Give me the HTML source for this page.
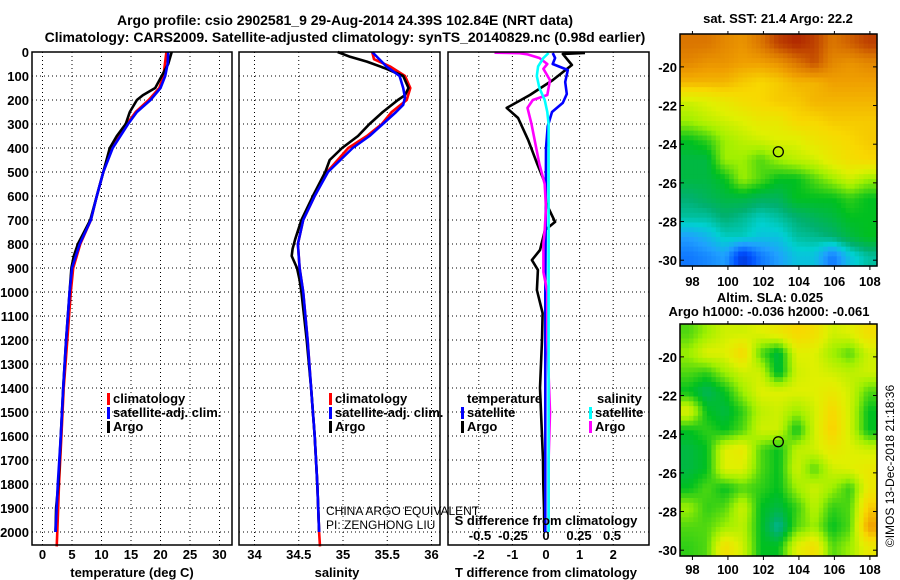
<!DOCTYPE html>
<html><head><meta charset="utf-8"><style>
html,body{margin:0;padding:0;background:#fff}
svg{display:block}
text{font-family:"Liberation Sans",sans-serif;fill:#000}
.b{font-weight:bold;font-size:13px}
.t{font-weight:bold;font-size:14px}
.n{font-size:12px}
</style></head><body>
<svg id="fig" width="900" height="580" viewBox="0 0 900 580" xmlns="http://www.w3.org/2000/svg">
<text class="t" x="345" y="25" text-anchor="middle">Argo profile: csio 2902581_9 29-Aug-2014 24.39S 102.84E (NRT data)</text>
<text class="t" x="345" y="42" text-anchor="middle">Climatology: CARS2009. Satellite-adjusted climatology: synTS_20140829.nc (0.98d earlier)</text>
<g id="g"></g>
</svg>
<script>
// ---------- data ----------
const depthTicks=[0,100,200,300,400,500,600,700,800,900,1000,1100,1200,1300,1400,1500,1600,1700,1800,1900,2000];
const tTicks=[0,5,10,15,20,25,30];
const sTicks=[34,34.5,35,35.5,36];
const sTickLabels=["34","34.5","35","35.5","36"];
const dtTicks=[-2,-1,0,1,2];
const dsTicks=[-0.5,-0.25,0,0.25,0.5];
const dsTickLabels=["-0.5","-0.25","0","0.25","0.5"];

const tArgoDepth=[0,50,100,150,180,200,250,300,350,400,500,600,700,800,850,900,1000,1200,1400,1600,1800,1900,2000];
const tArgo=[21.9,21.3,20.2,19.1,17.0,16.0,14.8,14.1,12.6,11.4,10.3,9.2,8.1,6.0,5.3,4.9,4.6,4.0,3.5,3.1,2.7,2.3,2.2];
const tClimDepth=[0,100,150,200,250,300,400,500,600,700,800,900,1000,1200,1400,1600,1800,2000,2060];
const tClim=[21.0,20.5,19.8,18.0,15.8,14.3,11.8,10.3,9.2,8.2,6.4,5.2,4.8,4.2,3.6,3.2,2.8,2.5,2.4];
const tSatDepth=[0,50,100,150,200,250,300,400,500,600,700,800,900,1000,1200,1400,1600,1800,2000];
const tSat=[21.3,21.2,20.8,20.0,18.3,16.0,14.5,11.9,10.3,9.2,8.2,6.3,5.0,4.6,4.0,3.5,3.1,2.6,2.2];

const sArgoDepth=[0,20,40,70,100,150,180,200,250,300,350,400,450,500,600,700,780,820,850,900,950,1000,1200,1400,1600,1800,2000];
const sArgo=[34.94,35.08,35.27,35.49,35.68,35.74,35.70,35.62,35.45,35.30,35.17,34.99,34.85,34.80,34.66,34.53,34.46,34.43,34.42,34.48,34.51,34.53,34.59,34.64,34.68,34.71,34.73];
const sClimDepth=[0,30,60,100,150,200,250,300,350,400,500,600,700,800,900,1000,1200,1400,1600,1800,2000,2060];
const sClim=[35.33,35.35,35.53,35.70,35.76,35.72,35.55,35.44,35.27,35.06,34.82,34.68,34.55,34.49,34.51,34.55,34.60,34.64,34.68,34.71,34.73,34.74];
const sSatDepth=[0,60,100,150,190,220,250,300,350,400,500,600,700,800,900,1000,1200,1400,1600,1800,2000];
const sSat=[35.33,35.49,35.64,35.68,35.70,35.68,35.60,35.45,35.30,35.11,34.83,34.68,34.55,34.49,34.51,34.55,34.60,34.64,34.68,34.71,34.73];

const dTArgoDepth=[4,8,54,117,179,233,275,367,463,546,629,708,742,825,867,908,992,1088,1200,1400,1600,1700,1800,1900,2000];
const dTArgo=[1.16,0.5,0.77,0.2,-0.48,-1.17,-0.83,-0.53,-0.27,-0.03,0,0.27,-0.03,-0.18,-0.42,-0.24,-0.27,-0.1,-0.12,-0.18,-0.12,-0.09,-0.08,-0.06,-0.05];
const dTSatDepth=[4,25,50,75,125,175,212,250,310,400,700,1000,1500,2000];
const dTSat=[0.2,0.27,0.2,0.65,0.57,0.62,0.5,0.18,0.05,0,-0.01,-0.02,-0.02,-0.02];
const dSArgoDepth=[3,5,10,25,50,70,117,179,200,233,300,383,467,550,650,742,800,917,1000,1200,1500,1700,2000];
const dSArgo=[-0.39,-0.2,-0.14,-0.05,0.01,-0.02,0.03,0.01,-0.1,-0.14,-0.11,-0.08,-0.05,-0.01,0,-0.01,-0.02,-0.02,0.01,0.01,0.03,0.02,0.02];
const dSSatDepth=[4,25,60,100,150,200,250,300,500,1000,1400,2000];
const dSSat=[0.02,-0.02,-0.06,-0.07,-0.05,-0.01,0.01,0.02,0.02,0.02,0.02,0.02];

const mapLonTicks=[98,100,102,104,106,108];
const mapLatTicks=[-20,-22,-24,-26,-28,-30];
const argoLon=102.84, argoLat=-24.39;
const sstGrid=[
[0.85,0.85,0.82,0.8,0.85,0.92,0.95,0.92,0.85,0.88,0.92],
[0.82,0.8,0.8,0.78,0.78,0.8,0.85,0.9,0.82,0.8,0.82],
[0.75,0.75,0.75,0.72,0.7,0.72,0.75,0.75,0.78,0.78,0.78],
[0.6,0.62,0.65,0.68,0.7,0.72,0.72,0.75,0.75,0.75,0.75],
[0.55,0.58,0.6,0.62,0.65,0.65,0.7,0.7,0.72,0.72,0.72],
[0.45,0.48,0.55,0.58,0.6,0.62,0.62,0.66,0.68,0.7,0.72],
[0.42,0.42,0.55,0.55,0.5,0.55,0.58,0.6,0.65,0.68,0.7],
[0.42,0.42,0.45,0.55,0.5,0.45,0.45,0.5,0.55,0.6,0.55],
[0.38,0.4,0.42,0.42,0.4,0.4,0.45,0.45,0.45,0.48,0.45],
[0.35,0.35,0.38,0.36,0.33,0.35,0.38,0.4,0.42,0.45,0.45],
[0.25,0.28,0.33,0.33,0.3,0.3,0.35,0.36,0.38,0.42,0.45],
[0.2,0.22,0.25,0.1,0.2,0.25,0.3,0.3,0.2,0.3,0.35]];
const slaGrid=[
[0.5,0.55,0.6,0.6,0.62,0.65,0.7,0.68,0.6,0.62,0.68],
[0.55,0.62,0.62,0.7,0.5,0.42,0.62,0.62,0.55,0.5,0.6],
[0.5,0.48,0.55,0.6,0.6,0.42,0.6,0.62,0.6,0.58,0.6],
[0.45,0.4,0.45,0.55,0.62,0.62,0.62,0.62,0.65,0.6,0.5],
[0.62,0.45,0.42,0.48,0.58,0.6,0.55,0.6,0.7,0.6,0.45],
[0.45,0.48,0.45,0.5,0.6,0.6,0.45,0.6,0.72,0.6,0.45],
[0.42,0.45,0.62,0.65,0.5,0.45,0.58,0.6,0.65,0.62,0.6],
[0.42,0.45,0.62,0.62,0.5,0.45,0.6,0.5,0.6,0.62,0.65],
[0.45,0.5,0.45,0.5,0.48,0.45,0.55,0.6,0.55,0.48,0.65],
[0.55,0.48,0.5,0.6,0.45,0.42,0.48,0.58,0.48,0.5,0.72],
[0.5,0.5,0.55,0.58,0.45,0.35,0.5,0.55,0.45,0.5,0.78],
[0.48,0.5,0.68,0.6,0.45,0.45,0.62,0.68,0.5,0.55,0.65]];

// ---------- drawing ----------
const NS="http://www.w3.org/2000/svg";
const G=document.getElementById('g');
function mk(tag,attrs,parent){const e=document.createElementNS(NS,tag);for(const k in attrs)e.setAttribute(k,attrs[k]);(parent||G).appendChild(e);return e;}
const TOP=52,BOT=545;
const yD=d=>TOP+d*0.24;
const panels=[
 {l:32,r:232,x:v=>42.5+v*5.9,name:'temperature-panel'},
 {l:239,r:440,x:v=>254.5+(v-34)*88.5,name:'salinity-panel'},
 {l:448,r:649,x:v=>546+v*33.6,name:'difference-panel'}];
const xDS=v=>546+v*132;

panels.forEach(p=>{
  const g=mk('g',{});
  
  
  depthTicks.forEach(d=>{
    const l=mk('line',{x1:p.l,x2:p.r,y1:yD(d),y2:yD(d),stroke:'#000','stroke-width':1,'stroke-dasharray':'1,3'},g);
    
    
  });
  p.g=g;
});
tTicks.forEach(v=>{const l=mk('line',{x1:panels[0].x(v),x2:panels[0].x(v),y1:TOP,y2:BOT,stroke:'#000','stroke-dasharray':'1,3'},panels[0].g);
 
 const t=mk('text',{x:panels[0].x(v),y:559,'text-anchor':'middle',class:'b'},panels[0].g);t.textContent=v;
 });
sTicks.forEach((v,i)=>{const l=mk('line',{x1:panels[1].x(v),x2:panels[1].x(v),y1:TOP,y2:BOT,stroke:'#000','stroke-dasharray':'1,3'},panels[1].g);
 
 const t=mk('text',{x:panels[1].x(v),y:559,'text-anchor':'middle',class:'b'},panels[1].g);t.textContent=sTickLabels[i];
 });
dtTicks.forEach(v=>{if(v!==0){const l=mk('line',{x1:panels[2].x(v),x2:panels[2].x(v),y1:TOP,y2:BOT,stroke:'#000','stroke-dasharray':'1,3'},panels[2].g);
 }
 const t=mk('text',{x:panels[2].x(v),y:559,'text-anchor':'middle',class:'b'},panels[2].g);t.textContent=v;
 });
dsTicks.forEach((v,i)=>{const t=mk('text',{x:xDS(v),y:540,'text-anchor':'middle',class:'b'},panels[2].g);t.textContent=dsTickLabels[i];
 });
depthTicks.forEach(d=>{const t=mk('text',{x:29,y:yD(d)+5,'text-anchor':'end',class:'b'});t.textContent=d;
 });

function line(xs,ds,xf,color,name,parent){
  const pts=xs.map((v,i)=>xf(v).toFixed(1)+','+yD(ds[i]).toFixed(1)).join(' ');
  const e=mk('polyline',{points:pts,fill:'none',stroke:color,'stroke-width':2.6,'stroke-linejoin':'round'},parent);
  
  
}
line(tClim,tClimDepth,panels[0].x,'#ff0000','temperature-climatology-line',panels[0].g);
line(tArgo,tArgoDepth,panels[0].x,'#000','temperature-argo-line',panels[0].g);
line(tSat,tSatDepth,panels[0].x,'#0000ff','temperature-satellite-line',panels[0].g);
line(sClim,sClimDepth,panels[1].x,'#ff0000','salinity-climatology-line',panels[1].g);
line(sArgo,sArgoDepth,panels[1].x,'#000','salinity-argo-line',panels[1].g);
line(sSat,sSatDepth,panels[1].x,'#0000ff','salinity-satellite-line',panels[1].g);
line(dTArgo,dTArgoDepth,panels[2].x,'#000','t-diff-argo-line',panels[2].g);
line(dTSat,dTSatDepth,panels[2].x,'#0000ff','t-diff-satellite-line',panels[2].g);
line(dSArgo,dSArgoDepth,xDS,'#ff00ff','s-diff-argo-line',panels[2].g);
line(dSSat,dSSatDepth,xDS,'#00ffff','s-diff-satellite-line',panels[2].g);

panels.forEach(p=>{const r=mk('rect',{x:p.l,y:TOP,width:p.r-p.l,height:BOT-TOP,fill:'none',stroke:'#000','stroke-width':1.5},p.g);
 });

function txt(x,y,s,cls,name,anchor){const t=mk('text',{x:x,y:y,class:cls,'text-anchor':anchor||'start'});t.textContent=s;
 return t;}
txt(132,577,'temperature (deg C)','b','temperature-axis-title','middle');
txt(337,577,'salinity','b','salinity-axis-title','middle');
txt(546,577,'T difference from climatology','b','t-diff-axis-title','middle');
txt(546,525,'S difference from climatology','b','s-diff-axis-title','middle');
txt(326,515,'CHINA ARGO EQUIVALENT','n','agency-label');
txt(326,529,'PI: ZENGHONG LIU','n','pi-label');

function legend(x,y,color,label,name){
  const r=mk('rect',{x:x,y:y-10,width:3,height:12,fill:color});
  
  txt(x+6,y,label,'b',name);
}
legend(107,403,'#ff0000','climatology','temp-legend-climatology');
legend(107,417,'#0000ff','satellite-adj. clim.','temp-legend-satellite');
legend(107,431,'#000','Argo','temp-legend-argo');
legend(329,403,'#ff0000','climatology','sal-legend-climatology');
legend(329,417,'#0000ff','satellite-adj. clim.','sal-legend-satellite');
legend(329,431,'#000','Argo','sal-legend-argo');
txt(467,403,'temperature','b','diff-legend-temperature-heading');
legend(461,417,'#0000ff','satellite','diff-legend-t-satellite');
legend(461,431,'#000','Argo','diff-legend-t-argo');
txt(597,403,'salinity','b','diff-legend-salinity-heading');
legend(589,417,'#00ffff','satellite','diff-legend-s-satellite');
legend(589,431,'#ff00ff','Argo','diff-legend-s-argo');

// ---------- maps ----------
const stops=[[0,[0,16,154]],[0.15,[0,80,255]],[0.25,[32,160,255]],[0.32,[0,208,208]],[0.38,[0,176,112]],[0.45,[0,192,32]],[0.55,[160,240,0]],[0.62,[224,240,0]],[0.7,[248,216,0]],[0.78,[240,160,0]],[0.86,[216,112,0]],[0.95,[176,40,0]],[1,[160,20,0]]];
function cmap(v){v=Math.max(0,Math.min(1,v));for(let i=1;i<stops.length;i++){if(v<=stops[i][0]){const a=stops[i-1],b=stops[i],f=(v-a[0])/(b[0]-a[0]);
 return 'rgb('+a[1].map((c,k)=>Math.round(c+(b[1][k]-c)*f)).join(',')+')';}}return 'rgb(160,20,0)';}
function drawMap(grid,L,T,W,H,latTop,latBot,lonL,lonR,name,step,labY){
  const g=mk('g',{});
  const rows=grid.length,cols=grid[0].length,sub=step;
  const nx=cols*sub,ny=rows*sub,cw=W/nx,ch=H/ny;
  function val(gx,gy){
    const fx=Math.max(0,Math.min(cols-1,gx-0.5)),fy=Math.max(0,Math.min(rows-1,gy-0.5));
    const x0=Math.floor(fx),y0=Math.floor(fy),x1=Math.min(cols-1,x0+1),y1=Math.min(rows-1,y0+1),ax=fx-x0,ay=fy-y0;
    return grid[y0][x0]*(1-ax)*(1-ay)+grid[y0][x1]*ax*(1-ay)+grid[y1][x0]*(1-ax)*ay+grid[y1][x1]*ax*ay;}
  for(let j=0;j<ny;j++)for(let i=0;i<nx;i++){
    mk('rect',{x:(L+i*cw).toFixed(2),y:(T+j*ch).toFixed(2),width:(cw+0.6).toFixed(2),height:(ch+0.6).toFixed(2),fill:cmap(val((i+0.5)/sub,(j+0.5)/sub))},g);
  }
  const px=lon=>L+(lon-lonL)/(lonR-lonL)*W, py=lat=>T+(latTop-lat)/(latTop-latBot)*H;
  const c=mk('circle',{cx:px(argoLon),cy:py(argoLat),r:5,fill:'none',stroke:'#000','stroke-width':1.3},g);
  
  const f=mk('rect',{x:L,y:T,width:W,height:H,fill:'none',stroke:'#000','stroke-width':1.5},g);
  
  mapLatTicks.forEach(v=>{mk('line',{x1:L,x2:L+4,y1:py(v),y2:py(v),stroke:'#000'},g);
    mk('line',{x1:L+W-4,x2:L+W,y1:py(v),y2:py(v),stroke:'#000'},g);
    const t=mk('text',{x:L-3,y:py(v)+5,class:'b','text-anchor':'end'},g);t.textContent=v;
    });
  mapLonTicks.forEach(v=>{mk('line',{x1:px(v),x2:px(v),y1:T+H,y2:T+H+4,stroke:'#000'},g);
    mk('line',{x1:px(v),x2:px(v),y1:T,y2:T-3,stroke:'#000'},g);
    const t=mk('text',{x:px(v),y:labY,class:'b','text-anchor':'middle'},g);t.textContent=v;
    });
}
drawMap(sstGrid,680,34,197,232,-18.3,-30.3,97.3,108.4,'sst-map',4,286);
drawMap(slaGrid,680,324,197,232,-18.3,-30.3,97.3,108.4,'sla-map',4,574);
txt(778,23,'sat. SST: 21.4 Argo: 22.2','b','sst-map-title','middle');
txt(770,302,'Altim. SLA: 0.025','b','sla-map-title','middle');
txt(769,316,'Argo h1000: -0.036 h2000: -0.061','b','argo-height-label','middle');
const ts=txt(0,0,'©IMOS 13-Dec-2018 21:18:36','n','timestamp-label','middle');
ts.setAttribute('transform','translate(894,466) rotate(-90)');
</script>
</body></html>
